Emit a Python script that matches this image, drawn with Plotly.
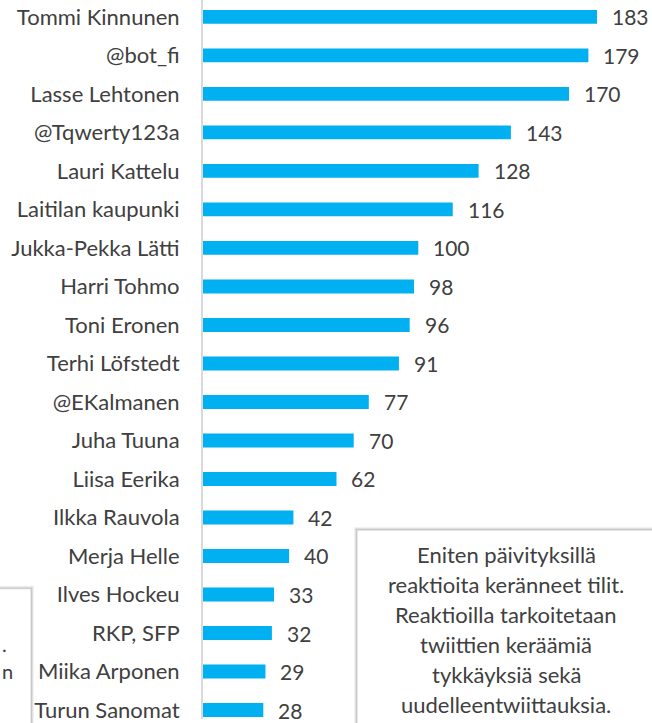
import plotly.graph_objects as go

names = ["Tommi Kinnunen", "@bot_fi", "Lasse Lehtonen", "@Tqwerty123a", "Lauri Kattelu",
         "Laitilan kaupunki", "Jukka-Pekka Lätti", "Harri Tohmo", "Toni Eronen",
         "Terhi Löfstedt", "@EKalmanen", "Juha Tuuna", "Liisa Eerika", "Ilkka Rauvola",
         "Merja Helle", "Ilves Hockeu", "RKP, SFP", "Miika Arponen", "Turun Sanomat"]
values = [183, 179, 170, 143, 128, 116, 100, 98, 96, 91, 77, 70, 62, 42, 40, 33, 32, 29, 28]

box_lines = ["Eniten päivityksillä", "reaktioita keränneet tilit.", "Reaktioilla tarkoitetaan",
             "twiittien keräämiä", "tykkäyksiä sekä", "uudelleentwiittauksia."]

W, H = 652, 723
L = 203
PW = W - L
FONT = "Lato"
TXT = "#404040"

cats = names[::-1]
vals = values[::-1]

fig = go.Figure()
fig.add_trace(go.Bar(
    x=vals, y=cats, orientation="h",
    marker=dict(color="#00B0F0", line=dict(width=0)),
    hoverinfo="skip",
))

for n, v in zip(cats, vals):
    fig.add_annotation(x=v, y=n, xref="x", yref="y", text=str(v), showarrow=False,
                       xanchor="left", yanchor="middle", xshift=13,
                       font=dict(family=FONT, size=21, color=TXT))

def px(x):
    return (x - L) / PW

def py(y):
    return 1 - y / H

shapes = []
# right text box shadow + box
for i, a in enumerate([0.05, 0.08, 0.12]):
    off = 3 - i
    shapes.append(dict(type="rect", xref="paper", yref="paper",
                       x0=px(357 - off), x1=px(670), y0=py(740), y1=py(533 - off),
                       line=dict(width=0), fillcolor=f"rgba(0,0,0,{a})", layer="above"))
shapes.append(dict(type="rect", xref="paper", yref="paper",
                   x0=px(357), x1=px(670), y0=py(740), y1=py(533),
                   line=dict(width=1, color="#D0D0D0"), fillcolor="white", layer="above"))
# left partial box shadow + box
for i, a in enumerate([0.05, 0.08, 0.12]):
    off = 3 - i
    shapes.append(dict(type="rect", xref="paper", yref="paper",
                       x0=px(-20), x1=px(31 + off), y0=py(740), y1=py(592 - off),
                       line=dict(width=0), fillcolor=f"rgba(0,0,0,{a})", layer="above"))
shapes.append(dict(type="rect", xref="paper", yref="paper",
                   x0=px(-20), x1=px(31), y0=py(740), y1=py(592),
                   line=dict(width=1, color="#D0D0D0"), fillcolor="white", layer="above"))

for i, line in enumerate(box_lines):
    fig.add_annotation(xref="paper", yref="paper", x=px(506), y=py(558 + i * 30.0), text=line,
                       showarrow=False, xanchor="center", yanchor="middle", align="center",
                       font=dict(family=FONT, size=22, color=TXT))
fig.add_annotation(xref="paper", yref="paper", x=px(0), y=py(648), text=".",
                   showarrow=False, xanchor="left", yanchor="middle",
                   font=dict(family=FONT, size=20, color=TXT))
fig.add_annotation(xref="paper", yref="paper", x=px(0), y=py(675), text="n",
                   showarrow=False, xanchor="left", yanchor="middle",
                   font=dict(family=FONT, size=20, color=TXT))

top = 18 + 17 / 38.72
span = H / 38.72
fig.update_layout(
    width=W, height=H,
    margin=dict(l=L, r=0, t=0, b=0),
    paper_bgcolor="white", plot_bgcolor="white",
    bargap=0.64,
    showlegend=False,
    shapes=shapes,
    xaxis=dict(range=[0, PW / 2.153], visible=False, fixedrange=True),
    yaxis=dict(type="category", range=[top - span, top], showgrid=False, fixedrange=True,
               showline=True, linecolor="#D9D9D9", linewidth=2,
               ticks="outside", ticklen=17, tickcolor="rgba(0,0,0,0)",
               tickfont=dict(family=FONT, size=22, color=TXT)),
)

fig.write_html("out.html", config={"displayModeBar": False},
               post_script="document.body.style.margin='0';document.body.style.overflow='hidden';")
